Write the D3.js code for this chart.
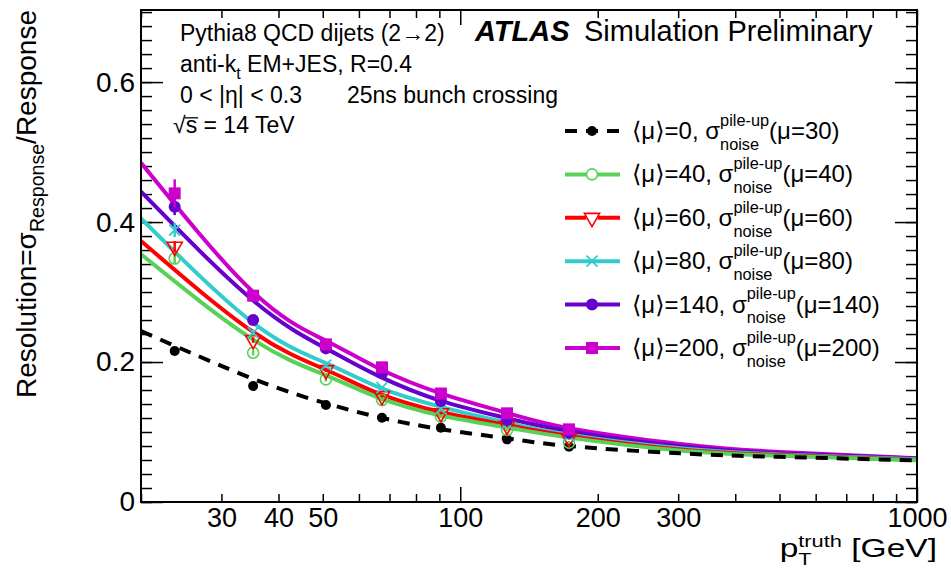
<!DOCTYPE html>
<html><head><meta charset="utf-8">
<script src="https://cdn.jsdelivr.net/npm/d3@7"></script>
<style>
body{margin:0;background:#fff}
svg{display:block}
text{font-family:"Liberation Sans","DejaVu Sans",Arial,sans-serif;fill:#000;white-space:pre}
</style>
</head><body>
<svg id="c" width="951" height="570"></svg>
<script>
// ---------- data ----------
const ptPoints = [23.7, 35.2, 50.8, 67.4, 90.7, 126.6, 173];
const fitPt    = [20, 35.2, 50.8, 66, 90.7, 126.6, 173, 303, 500, 1000];

const mu0Vals   = [0.2157, 0.1657, 0.1386, 0.1205, 0.1060, 0.0895, 0.0790];
const mu40Vals  = [0.3480, 0.2133, 0.1752, 0.1457, 0.1220, 0.1030, 0.0848];
const mu60Vals  = [0.3648, 0.2314, 0.1886, 0.1514, 0.1270, 0.1090, 0.0915];
const mu80Vals  = [0.3886, 0.2419, 0.1957, 0.1633, 0.1335, 0.1120, 0.0945];
const mu140Vals = [0.4219, 0.2600, 0.2195, 0.1838, 0.1443, 0.1170, 0.0990];
const mu200Vals = [0.4410, 0.2948, 0.2252, 0.1924, 0.1550, 0.1267, 0.1038];

const mu0Err   = [0.004, 0.003, 0.002, 0.002, 0.002, 0.002, 0.002];
const mu40Err  = [0.007, 0.004, 0.003, 0.002, 0.002, 0.002, 0.002];
const mu60Err  = [0.008, 0.004, 0.003, 0.002, 0.002, 0.002, 0.002];
const mu80Err  = [0.010, 0.004, 0.003, 0.002, 0.002, 0.002, 0.002];
const mu140Err = [0.012, 0.004, 0.003, 0.002, 0.002, 0.002, 0.002];
const mu200Err = [0.020, 0.005, 0.003, 0.002, 0.002, 0.002, 0.002];

const mu0Fit   = [0.2443, 0.1760, 0.1410, 0.1215, 0.1040, 0.0910, 0.0800, 0.0695, 0.0645, 0.0595];
const mu40Fit  = [0.3540, 0.2320, 0.1810, 0.1495, 0.1235, 0.1065, 0.0920, 0.0735, 0.0660, 0.0595];
const mu60Fit  = [0.3730, 0.2430, 0.1890, 0.1555, 0.1285, 0.1100, 0.0945, 0.0750, 0.0670, 0.0600];
const mu80Fit  = [0.4052, 0.2560, 0.1985, 0.1645, 0.1360, 0.1135, 0.0962, 0.0767, 0.0680, 0.0610];
const mu140Fit = [0.4433, 0.2880, 0.2195, 0.1805, 0.1445, 0.1198, 0.1010, 0.0795, 0.0695, 0.0620];
const mu200Fit = [0.4847, 0.3000, 0.2305, 0.1915, 0.1552, 0.1272, 0.1055, 0.0830, 0.0715, 0.0625];

const xTickLabels = [30, 40, 50, 100, 200, 300, 1000];
const yTickLabels = [0, 0.2, 0.4, 0.6];
const legendMu    = ["0", "40", "60", "80", "140", "200"];
const legendMuN   = ["30", "40", "60", "80", "140", "200"];

const series = [
  {vals: mu0Vals,   err: mu0Err,   fit: mu0Fit,   color: "#000000", marker: "dot",    dash: true},
  {vals: mu40Vals,  err: mu40Err,  fit: mu40Fit,  color: "#57d157", marker: "ocircle"},
  {vals: mu60Vals,  err: mu60Err,  fit: mu60Fit,  color: "#ff0000", marker: "otri"},
  {vals: mu80Vals,  err: mu80Err,  fit: mu80Fit,  color: "#33cccc", marker: "times"},
  {vals: mu140Vals, err: mu140Err, fit: mu140Fit, color: "#6600cc", marker: "circle"},
  {vals: mu200Vals, err: mu200Err, fit: mu200Fit, color: "#cc00cc", marker: "square"}
];

// ---------- layout ----------
const L = 141, R = 917, T = 10, B = 502;
const svg = d3.select("#c");
const x = d3.scaleLog().domain([20, 1000]).range([L, R]);
const y = d3.scaleLinear().domain([0, 0.703]).range([B, T]);

// rich text helper (sub/superscripts, stacked scripts)
function rich(parent, px, py, parts, size, opt = {}) {
  const g = parent.append("g");
  let cx = 0;
  parts.forEach(p => {
    const items = p.stack || [p];
    let w = 0;
    items.forEach(it => {
      const t = g.append("text").attr("x", cx).attr("y", (it.dy || 0) * size)
        .attr("font-size", size * (it.s || 1)).text(it.t);
      if (opt.weight) t.attr("font-weight", opt.weight);
      if (opt.style) t.attr("font-style", opt.style);
      const tw = t.node().getComputedTextLength();
      if (it.over) {
        const oy = (it.dy || 0) * size - size * 0.66;
        g.append("line").attr("x1", cx - 1).attr("x2", cx + tw + 1)
          .attr("y1", oy).attr("y2", oy).attr("stroke", "#000").attr("stroke-width", 1.3);
      }
      w = Math.max(w, tw);
    });
    cx += w + (p.gap || 0) * size;
  });
  const sx = opt.sx || 1;
  const off = opt.anchor === "end" ? -cx : opt.anchor === "middle" ? -cx / 2 : 0;
  g.attr("transform", `translate(${px},${py}) rotate(${opt.rotate || 0}) scale(${sx},1) translate(${off},0)`);
  return g;
}

// ---------- axes / ticks ----------
const minorX = [];
for (let d = 10; d <= 100; d *= 10) for (let k = 2; k <= 9; k++) if (k * d >= 20) minorX.push(k * d);
const majorX = [100, 1000];
const minorY = d3.range(0, 0.7001, 0.02).map(v => +v.toFixed(2));
const majorY = yTickLabels;

const tickStyle = g => g.call(s => s.select(".domain").remove())
  .selectAll("line").attr("stroke", "#000").attr("stroke-width", 1.5);

svg.append("g").attr("transform", `translate(0,${B})`).call(d3.axisBottom(x).tickValues(minorX).tickSize(-8).tickFormat("")).call(tickStyle);
svg.append("g").attr("transform", `translate(0,${B})`).call(d3.axisBottom(x).tickValues(majorX).tickSize(-15).tickFormat("")).call(tickStyle);
svg.append("g").attr("transform", `translate(0,${T})`).call(d3.axisTop(x).tickValues(minorX).tickSize(-8).tickFormat("")).call(tickStyle);
svg.append("g").attr("transform", `translate(0,${T})`).call(d3.axisTop(x).tickValues(majorX).tickSize(-15).tickFormat("")).call(tickStyle);
svg.append("g").attr("transform", `translate(${L},0)`).call(d3.axisLeft(y).tickValues(minorY).tickSize(-11).tickFormat("")).call(tickStyle);
svg.append("g").attr("transform", `translate(${L},0)`).call(d3.axisLeft(y).tickValues(majorY).tickSize(-22).tickFormat("")).call(tickStyle);
svg.append("g").attr("transform", `translate(${R},0)`).call(d3.axisRight(y).tickValues(minorY).tickSize(-11).tickFormat("")).call(tickStyle);
svg.append("g").attr("transform", `translate(${R},0)`).call(d3.axisRight(y).tickValues(majorY).tickSize(-22).tickFormat("")).call(tickStyle);

// tick labels
const xl = svg.append("g").attr("transform", `translate(0,${B})`)
  .call(d3.axisBottom(x).tickValues(xTickLabels).tickSize(0).tickPadding(6).tickFormat(d3.format("d")));
xl.select(".domain").remove();
xl.selectAll("text").attr("font-size", 27).attr("font-family", null);
const yl = svg.append("g").attr("transform", `translate(${L},0)`)
  .call(d3.axisLeft(y).tickValues(yTickLabels).tickSize(0).tickPadding(6).tickFormat(d => d === 0 ? "0" : d3.format(".1f")(d)));
yl.select(".domain").remove();
yl.selectAll("text").attr("font-size", 28).attr("font-family", null);

// ---------- fits ----------
const fitLine = d3.line().x((d, i) => x(fitPt[i])).y(d => y(d)).curve(d3.curveNatural);
svg.append("clipPath").attr("id", "frameclip").append("rect")
  .attr("x", L).attr("y", T).attr("width", R - L).attr("height", B - T);
const plot = svg.append("g").attr("clip-path", "url(#frameclip)");
series.slice().reverse().forEach(s => {
  plot.append("path").attr("d", fitLine(s.fit)).attr("fill", "none")
    .attr("stroke", s.color).attr("stroke-width", 4)
    .attr("stroke-dasharray", s.dash ? "12,9" : null);
});

// ---------- markers ----------
function drawMarker(g, s, cx, cy) {
  const c = s.color;
  if (s.marker === "dot") g.append("circle").attr("cx", cx).attr("cy", cy).attr("r", 5).attr("fill", c);
  else if (s.marker === "circle") g.append("circle").attr("cx", cx).attr("cy", cy).attr("r", 6).attr("fill", c);
  else if (s.marker === "ocircle") g.append("circle").attr("cx", cx).attr("cy", cy).attr("r", 5.5).attr("fill", "none").attr("stroke", c).attr("stroke-width", 1.6);
  else if (s.marker === "square") g.append("rect").attr("x", cx - 6).attr("y", cy - 6).attr("width", 12).attr("height", 12).attr("fill", c);
  else if (s.marker === "otri") g.append("path").attr("d", d3.symbol(d3.symbolTriangle, 100)()).attr("transform", `translate(${cx},${cy}) rotate(180)`).attr("fill", "none").attr("stroke", c).attr("stroke-width", 1.6);
  else if (s.marker === "times") g.append("path").attr("d", d3.symbol(d3.symbolTimes, 80)()).attr("transform", `translate(${cx},${cy})`).attr("fill", "none").attr("stroke", c).attr("stroke-width", 1.8);
}
series.forEach(s => {
  const g = plot.append("g");
  s.vals.forEach((v, i) => {
    g.append("line").attr("x1", x(ptPoints[i])).attr("x2", x(ptPoints[i]))
      .attr("y1", y(v - s.err[i])).attr("y2", y(v + s.err[i]))
      .attr("stroke", s.color).attr("stroke-width", 2.5);
    drawMarker(g, s, x(ptPoints[i]), y(v));
  });
});

// ---------- frame ----------
svg.append("rect").attr("x", L).attr("y", T).attr("width", R - L).attr("height", B - T)
  .attr("fill", "none").attr("stroke", "#000").attr("stroke-width", 2);

// ---------- legend ----------
const leg = svg.append("g");
series.forEach((s, i) => {
  const cy = 131 + i * 43.4;
  leg.append("line").attr("x1", 565).attr("x2", 620).attr("y1", cy).attr("y2", cy)
    .attr("stroke", s.color).attr("stroke-width", 4).attr("stroke-dasharray", s.dash ? "12,9" : null);
  if (s.marker === "ocircle" || s.marker === "otri") {
    leg.append("circle").attr("cx", 592).attr("cy", cy).attr("r", 6).attr("fill", "#fff");
  }
  drawMarker(leg, s, 592, cy);
  rich(leg, 632, cy + 8, [
    {t: "⟨μ⟩=" + legendMu[i] + ", σ"},
    {stack: [{t: "pile-up", s: 0.68, dy: -0.55}, {t: "noise", s: 0.68, dy: 0.45}]},
    {t: "(μ=" + legendMuN[i] + ")"}
  ], 24);
});

// ---------- annotations ----------
rich(svg, 180, 41, [{t: "Pythia8 QCD dijets (2→2)"}], 23);
rich(svg, 180, 72, [{t: "anti-k"}, {t: "t", s: 0.7, dy: 0.3}, {t: "\u00a0EM+JES, R=0.4"}], 23);
rich(svg, 180, 103, [{t: "0 < |η| < 0.3"}], 23);
rich(svg, 347, 103, [{t: "25ns bunch crossing"}], 23);
rich(svg, 173, 133, [{t: "√"}, {t: "s", over: true}, {t: "\u00a0= 14 TeV"}], 23);
rich(svg, 475, 41, [{t: "ATLAS"}], 29, {weight: "bold", style: "italic"});
rich(svg, 584, 41, [{t: "Simulation Preliminary"}], 29);

// axis titles
rich(svg, 937, 557, [
  {t: "p"},
  {stack: [{t: "truth", s: 0.65, dy: -0.4}, {t: "T", s: 0.65, dy: 0.3}]},
  {t: "\u00a0[GeV]"}
], 26, {anchor: "end", sx: 1.29});
rich(svg, 36, 10, [
  {t: "Resolution=σ"},
  {t: "Response", s: 0.7, dy: 0.3},
  {t: "/Response"}
], 28, {anchor: "end", rotate: -90});
</script>
</body></html>
